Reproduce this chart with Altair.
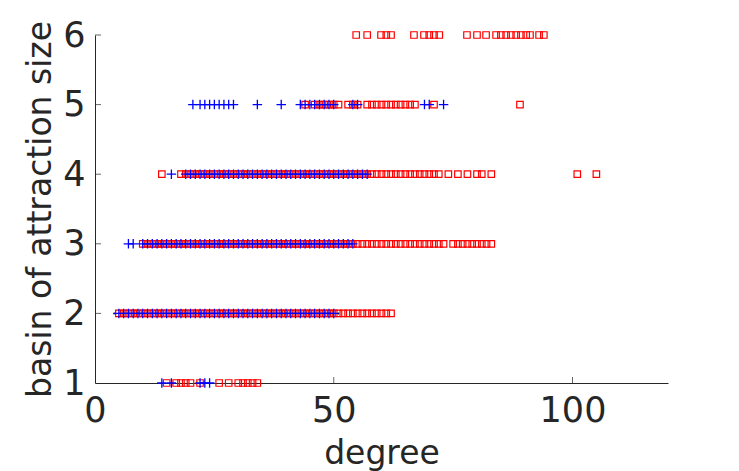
import altair as alt
import pandas as pd

# ---- data ----
red_6 = [54.7, 57.0, 59.9, 61.0, 62.0, 66.8, 68.9, 70.0, 71.0, 72.1, 77.9, 80.0, 81.9,
         84.0, 85.0, 86.1, 87.1, 88.2, 89.2, 90.3, 91.1, 93.0, 94.0]
red_5 = [44, 46, 47, 48, 49, 50, 51, 53, 54, 55, 57, 58, 59, 60, 61, 62, 63, 64, 65, 66, 67, 71, 89]
red_4 = [14, 18, 19, 20, 21, 22, 23, 24, 25, 26, 27, 28, 29, 30, 31, 32, 33, 34, 35, 36, 37, 38,
         39, 40, 41, 42, 43, 44, 45, 46, 47, 48, 49, 50, 51, 52, 53, 54, 55, 56, 57, 58, 59, 60,
         61, 62, 63, 64, 65, 66, 67, 68, 69, 70, 71, 72, 74, 76, 78, 80, 81, 83, 101, 105]
red_3 = [10, 11, 12, 13, 14, 15, 16, 17, 18, 19, 20, 21, 22, 23, 24, 25, 26, 27, 28, 29, 30, 31,
         32, 33, 34, 35, 36, 37, 38, 39, 40, 41, 42, 43, 44, 45, 46, 47, 48, 49, 50, 51, 52, 53,
         54, 55, 56, 57, 58, 59, 60, 61, 62, 63, 64, 65, 66, 67, 68, 69, 70, 71, 72, 73,
         75, 76, 77, 78, 79, 80, 81, 82, 83]
red_2 = [5, 6, 7, 8, 9, 10, 11, 12, 13, 14, 15, 16, 17, 18, 19, 20, 21, 22, 23, 24, 25, 26, 27,
         28, 29, 30, 31, 32, 33, 34, 35, 36, 37, 38, 39, 40, 41, 42, 43, 44, 45, 46, 47, 48, 49,
         50, 51, 52, 53, 54, 55, 56, 57, 58, 59, 60, 61, 62]
red_1 = [15, 17, 18, 19, 20, 22, 26, 28, 30, 31, 32, 33, 34]

blue_5 = [20.5, 22, 23, 24, 25, 26, 27, 28, 29, 34, 39, 43, 44, 45, 46, 47, 48, 49, 50, 54, 55,
          69, 70, 73]
blue_4 = [16, 19, 20, 21, 22, 23, 24, 25, 26, 27, 28, 29, 30, 31, 32, 33, 34, 35, 36, 37, 38,
          39, 40, 41, 42, 43, 44, 45, 46, 47, 48, 49, 50, 51, 52, 53, 54, 55, 56, 57]
blue_3 = [7, 8, 10, 11, 12, 13, 14, 15, 16, 17, 18, 19, 20, 21, 22, 23, 24, 25, 26, 27, 28, 29,
          30, 31, 32, 33, 34, 35, 36, 37, 38, 39, 40, 41, 42, 43, 44, 45, 46, 47, 48, 49, 50,
          51, 52, 53, 54]
blue_2 = [5, 6, 7, 8, 9, 10, 11, 12, 13, 14, 15, 16, 17, 18, 19, 20, 21, 22, 23, 24, 25, 26, 27,
          28, 29, 30, 31, 32, 33, 34, 35, 36, 37, 38, 39, 40, 41, 42, 43, 44, 45, 46, 47, 48, 49, 50]
blue_1 = [14, 16, 22, 23, 24]

black_4 = [20, 21, 23, 24, 25, 27, 28, 30, 31, 33, 34, 36, 37, 39, 40, 42, 43, 44, 46, 47]
black_3 = [10, 11, 13, 14, 15, 17, 18, 20, 21, 23, 24, 26, 27, 29, 30, 32, 33, 35, 36, 38, 39,
           41, 42, 44, 45, 47, 48, 50, 52]
black_2 = [4, 6, 7, 9, 10, 12, 13, 15, 16, 18, 19, 21, 22, 24, 25, 27, 28, 30, 31, 33, 34, 36,
           37, 39, 40, 42, 43, 45, 46, 48, 49, 51]

x_ticks = [0, 50, 100]
y_ticks = [1, 2, 3, 4, 5, 6]


def frame(groups):
    rows = []
    for level, xs in groups:
        for v in xs:
            rows.append({"degree": v, "size": level})
    return pd.DataFrame(rows)


red_df = frame([(6, red_6), (5, red_5), (4, red_4), (3, red_3), (2, red_2), (1, red_1)])
blue_df = frame([(5, blue_5), (4, blue_4), (3, blue_3), (2, blue_2), (1, blue_1)])
black_df = frame([(4, black_4), (3, black_3), (2, black_2)])

FONT = "DejaVu Sans"
AX = "#262626"
W, H = 573, 348

xscale = alt.Scale(domain=[0, 120], nice=False, zero=False)
yscale = alt.Scale(domain=[1, 6], nice=False, zero=False)

x_axis = alt.Axis(values=x_ticks, format="d", ticks=False, grid=False, labelFontSize=35,
                  labelFont=FONT, labelColor=AX, labelPadding=10, domainColor=AX, domainWidth=1,
                  title="degree", titleFont=FONT, titleFontSize=33, titleFontWeight="normal",
                  titleColor=AX, titlePadding=9, labelFlush=False)
y_axis = alt.Axis(values=y_ticks, format="d", ticks=False, grid=False, labelFontSize=35,
                  labelFont=FONT, labelColor=AX, labelPadding=10, domainColor=AX, domainWidth=1,
                  title="basin of attraction size", titleFont=FONT, titleFontSize=33,
                  titleFontWeight="normal", titleColor=AX, titlePadding=5, labelFlush=False)

black = alt.Chart(black_df).mark_point(shape="circle", filled=True, color="black", size=4,
                                       opacity=1).encode(
    x=alt.X("degree:Q", scale=xscale, axis=x_axis),
    y=alt.Y("size:Q", scale=yscale, axis=y_axis),
)

red = alt.Chart(red_df).mark_point(shape="square", filled=False, color="#ff0000", size=42,
                                   strokeWidth=1.2, opacity=1).encode(
    x=alt.X("degree:Q", scale=xscale),
    y=alt.Y("size:Q", scale=yscale),
)

blue = alt.Chart(blue_df).mark_point(shape="M-1,0H1M0,-1V1", filled=False, color="#0000ff",
                                     size=90, strokeWidth=1.3, opacity=1).encode(
    x=alt.X("degree:Q", scale=xscale),
    y=alt.Y("size:Q", scale=yscale),
)

xt = alt.Chart(pd.DataFrame({"t": x_ticks[1:]})).mark_tick(
    orient="vertical", size=6, thickness=1, color=AX).encode(
    x=alt.X("t:Q", scale=xscale), y=alt.value(H - 3))
yt = alt.Chart(pd.DataFrame({"t": y_ticks[1:]})).mark_tick(
    orient="horizontal", size=6, thickness=1, color=AX).encode(
    y=alt.Y("t:Q", scale=yscale), x=alt.value(3))

chart = alt.layer(black, red, blue, xt, yt).properties(
    width=W, height=H,
    autosize=alt.AutoSizeParams(type="none"),
    padding={"left": 95, "top": 35, "right": 739 - 95 - W, "bottom": 471 - 35 - H},
    background="white",
).configure_view(stroke=None)

chart.save("out.html", embed_options={"renderer": "svg", "actions": False})
